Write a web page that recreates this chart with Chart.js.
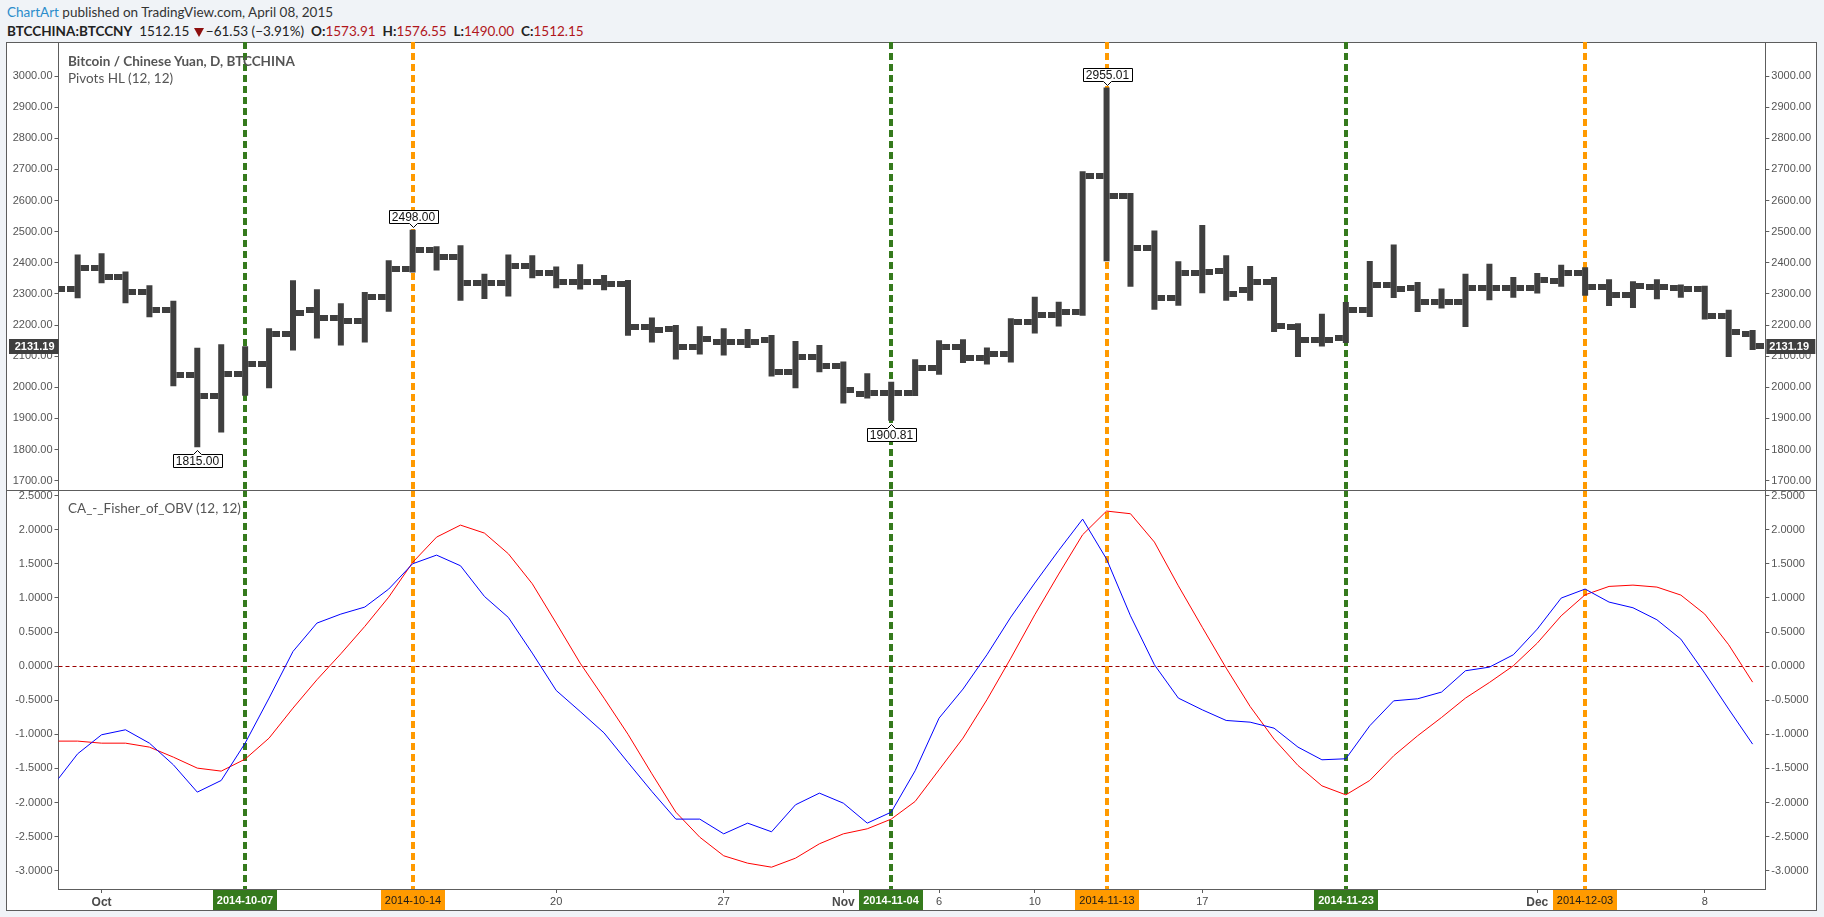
<!DOCTYPE html>
<html>
<head>
<meta charset="utf-8">
<script src="https://cdn.jsdelivr.net/npm/chart.js@4.4.1/dist/chart.umd.min.js"></script>
<style>
html,body{margin:0;padding:0;}
body{width:1824px;height:917px;background:#f0f3f7;position:relative;overflow:hidden;font-family:Lato,"Open Sans",sans-serif;}
#frame{position:absolute;left:6px;top:42px;width:1811px;height:869px;box-sizing:border-box;border:1px solid #5d5d5d;background:#fff;}
#divider{position:absolute;left:6px;top:490px;width:1811px;height:1px;background:#5d5d5d;}
canvas{position:absolute;left:0;}
#c1{top:36px;}
#c2{top:490px;}
.txt{position:absolute;white-space:nowrap;line-height:16px;}
#h1{left:7px;top:4px;font-size:13.5px;color:#333;}
#h1 .brand{color:#2b8ccb;}
#h2{left:7px;top:23px;font-size:13.5px;color:#222;}
#h2 .r{color:#b0161b;}
#h2 .tri{display:inline-block;width:0;height:0;border-left:5px solid transparent;border-right:5px solid transparent;border-top:9px solid #8e0f0f;vertical-align:-1px;margin:0 2px 0 1px;}
.leg{left:68px;font-size:13.5px;color:#555;}
#l1{top:53px;font-weight:bold;}
#l2{top:70px;}
#l3{top:500px;}
</style>
</head>
<body>
<div id="frame"></div>
<div class="txt" id="h1"><span class="brand">ChartArt</span> published on TradingView.com, April 08, 2015</div>
<div class="txt" id="h2"><b>BTCCHINA:BTCCNY</b>&nbsp; 1512.15 <span class="tri"></span>−61.53 (−3.91%)&nbsp; <b>O:</b><span class="r">1573.91</span>&nbsp; <b>H:</b><span class="r">1576.55</span>&nbsp; <b>L:</b><span class="r">1490.00</span>&nbsp; <b>C:</b><span class="r">1512.15</span></div>
<canvas id="c1" width="1824" height="460"></canvas>
<canvas id="c2" width="1824" height="421"></canvas>
<div id="divider"></div>
<div class="txt leg" id="l1">Bitcoin / Chinese Yuan, D, BTCCHINA</div>
<div class="txt leg" id="l2">Pivots HL (12, 12)</div>
<div class="txt leg" id="l3">CA_-_Fisher_of_OBV (12, 12)</div>
<script>
// ---------------- DATA ----------------
const dates = [
 "2014-09-29","2014-09-30",
 "2014-10-01","2014-10-02","2014-10-03","2014-10-04","2014-10-05","2014-10-06","2014-10-07","2014-10-08","2014-10-09","2014-10-10",
 "2014-10-11","2014-10-12","2014-10-13","2014-10-14","2014-10-15","2014-10-16","2014-10-17","2014-10-18","2014-10-19","2014-10-20",
 "2014-10-21","2014-10-22","2014-10-23","2014-10-24","2014-10-25","2014-10-26","2014-10-27","2014-10-28","2014-10-29","2014-10-30","2014-10-31",
 "2014-11-01","2014-11-03","2014-11-04","2014-11-05","2014-11-06","2014-11-07","2014-11-08","2014-11-09","2014-11-10",
 "2014-11-11","2014-11-12","2014-11-13","2014-11-14","2014-11-15","2014-11-16","2014-11-17","2014-11-18","2014-11-19","2014-11-20",
 "2014-11-21","2014-11-22","2014-11-23","2014-11-24","2014-11-25","2014-11-26","2014-11-27","2014-11-28","2014-11-29","2014-11-30",
 "2014-12-01","2014-12-02","2014-12-03","2014-12-04","2014-12-05","2014-12-06","2014-12-07","2014-12-08","2014-12-09","2014-12-10"
];
const opens = [
 2300,2315,2382,2353,2305,2248,2040,1972,2043,2075,
 2170,2248,2222,2214,2291,2379,2441,2418,2336,2336,
 2391,2368,2339,2339,2331,2193,2186,2128,2147,2147,
 2152,2050,2098,2069,1979,1983,1983,2061,2131,2093,
 2106,2211,2232,2243,2678,2614,2449,2286,2368,2373,
 2312,2338,2194,2153,2159,2247,2330,2320,2274,2274,
 2320,2320,2320,2343,2366,2323,2295,2323,2320,2316,
 2228,2172];
const highs = [
 2330,2419,2423,2364,2320,2270,2119,2130,2124,2182,
 2336,2307,2262,2298,2400,2498,2445,2448,2357,2419,
 2416,2380,2387,2353,2337,2216,2192,2188,2182,2179,
 2160,2141,2128,2075,2037,2010,2082,2143,2146,2120,
 2214,2283,2267,2686,2955.01,2616,2496,2397,2513,2416,
 2382,2346,2198,2228,2266,2398,2451,2330,2309,2357,
 2389,2346,2359,2386,2378,2339,2333,2339,2322,2318,
 2241,2176];
const lows = [
 2288,2294,2342,2278,2233,2011,1815,1863,1981,2005,
 2126,2165,2142,2152,2251,2377,2383,2286,2292,2300,
 2358,2326,2322,2320,2174,2152,2097,2113,2110,2134,
 2043,2005,2056,1956,1972,1900.81,1980,2048,2086,2081,
 2088,2181,2203,2238,2413,2331,2257,2270,2310,2286,
 2286,2186,2105,2139,2150,2234,2295,2250,2261,2202,
 2288,2296,2309,2331,2302,2269,2263,2291,2296,2226,
 2105,2128];
const closes = [
 2315,2382,2353,2305,2248,2040,1972,2043,2075,2170,
 2238,2222,2214,2291,2379,2441,2418,2336,2336,2391,
 2368,2339,2339,2331,2193,2184,2128,2154,2147,2147,
 2050,2098,2069,1991,1983,1983,2061,2131,2093,2106,
 2211,2232,2243,2678,2614,2448,2286,2368,2370,2300,
 2338,2196,2153,2153,2247,2330,2316,2274,2274,2320,
 2320,2320,2346,2366,2323,2295,2327,2323,2316,2228,
 2177,2131.19];
const fisherValues = [
 -1.74,-1.286,-1.007,-0.934,-1.13,-1.447,-1.848,-1.677,-1.13,-0.469,
 0.215,0.631,0.763,0.866,1.13,1.501,1.628,1.472,1.022,0.714,
 0.191,-0.357,-0.665,-0.98,-1.413,-1.839,-2.244,-2.244,-2.46,-2.303,
 -2.43,-2.034,-1.863,-2.01,-2.303,-2.142,-1.535,-0.763,-0.337,0.166,
 0.719,1.218,1.697,2.156,1.57,0.738,0.02,-0.469,-0.641,-0.797,
 -0.822,-0.91,-1.188,-1.374,-1.359,-0.875,-0.509,-0.479,-0.381,-0.068,
 -0.015,0.166,0.543,0.998,1.13,0.939,0.856,0.68,0.396,-0.103,
 -0.631,-1.144];
const triggerValues = [
 -1.10,-1.10,-1.13,-1.13,-1.188,-1.335,-1.496,-1.54,-1.364,-1.056,
 -0.616,-0.2,0.181,0.582,1.012,1.521,1.892,2.068,1.951,1.648,
 1.208,0.631,0.044,-0.47,-1.0,-1.58,-2.142,-2.509,-2.782,-2.89,
 -2.949,-2.817,-2.606,-2.46,-2.386,-2.244,-1.985,-1.521,-1.056,-0.494,
 0.117,0.753,1.35,1.927,2.274,2.235,1.819,1.178,0.57,-0.029,
 -0.592,-1.071,-1.457,-1.756,-1.888,-1.677,-1.315,-1.022,-0.753,-0.469,
 -0.24,0.005,0.337,0.738,1.046,1.169,1.188,1.159,1.042,0.763,
 0.313,-0.235];
const priceTicks = [1700,1800,1900,2000,2100,2200,2300,2400,2500,2600,2700,2800,2900,3000];
const fisherTicks = [-3,-2.5,-2,-1.5,-1,-0.5,0,0.5,1,1.5,2,2.5];
const xTickDates = ["2014-10-01","2014-10-20","2014-10-27","2014-11-01","2014-11-06","2014-11-10","2014-11-17","2014-12-01","2014-12-08"];
const xTickLabels = ["Oct","20","27","Nov","6","10","17","Dec","8"];
const monthLabels = ["Oct","Nov","Dec"];
const buyDates = ["2014-10-07","2014-11-04","2014-11-23"];
const sellDates = ["2014-10-14","2014-11-13","2014-12-03"];
const pivotHighDates = ["2014-10-14","2014-11-13"];
const pivotLowDates = ["2014-10-05","2014-11-04"];
const zeroLevel = 0;

// ---------------- STYLE ----------------
const BAR = '#3f3f3f';
const GREEN = '#357a1d';
const ORANGE = '#ff9a00';
const AXIS = '#5d5d5d';
const TICKTXT = '#555';
const TFONT = '"Liberation Sans", Arial, sans-serif';
const X_MIN = 0.2, X_MAX = 71.53;
const TICK_R = 6; // point radius of OHLC tick markers (also the chart's min padding)

const idx = d => dates.indexOf(d);

function tickImage(side){
  const c = document.createElement('canvas');
  c.width = 22; c.height = 6;
  const g = c.getContext('2d');
  g.fillStyle = BAR;
  if (side < 0) g.fillRect(0,0,8,6); else g.fillRect(14,0,8,6);
  return c;
}
const openImg = tickImage(-1), closeImg = tickImage(1);

function drawSignals(chart){
  const {ctx, chartArea:a, scales:{x}} = chart;
  ctx.save();
  ctx.beginPath(); ctx.rect(a.left, a.top, a.right-a.left, a.bottom-a.top); ctx.clip();
  ctx.lineWidth = 4; ctx.setLineDash([7,4]);
  const draw = (d,col) => {
    const px = Math.round(x.getPixelForValue(idx(d)));
    ctx.strokeStyle = col; ctx.beginPath(); ctx.moveTo(px, a.top); ctx.lineTo(px, a.bottom); ctx.stroke();
  };
  buyDates.forEach(d => draw(d, GREEN));
  sellDates.forEach(d => draw(d, ORANGE));
  ctx.restore();
}

function fixWidth(w){ return s => { s.width = w; s.paddingTop = 0; s.paddingBottom = 0; }; }

const yTickOpts = (fmt) => ({
  color: TICKTXT, font: {family: TFONT, size: 11}, padding: 2,
  callback: v => Number(v).toFixed(fmt)
});
const yGrid = {display:true, drawOnChartArea:false, drawTicks:true, tickLength:4, color:AXIS};

// ---------------- PRICE PANE ----------------
const pricePlugin = {
  id:'pricePane',
  beforeDatasetsDraw(chart){ drawSignals(chart); },
  afterDatasetsDraw(chart){
    const {ctx, scales:{x, y}} = chart;
    ctx.save();
    ctx.font = '12px ' + TFONT;
    const label = (d, val, above) => {
      const px = Math.round(x.getPixelForValue(idx(d))) + 0.5;
      const py = y.getPixelForValue(val);
      const text = val.toFixed(2);
      const w = Math.round(ctx.measureText(text).width) + 6, h = 13, gap = 9.5;
      const top = Math.round(above ? py - gap - h : py + gap) + 0.5;
      const left = Math.round(px - w/2) + 0.5;
      ctx.beginPath();
      if (above) {
        ctx.moveTo(left, top); ctx.lineTo(left+w, top); ctx.lineTo(left+w, top+h);
        ctx.lineTo(px+4, top+h); ctx.lineTo(px, top+h+4); ctx.lineTo(px-4, top+h); ctx.lineTo(left, top+h);
      } else {
        ctx.moveTo(left, top+h); ctx.lineTo(left+w, top+h); ctx.lineTo(left+w, top);
        ctx.lineTo(px+4, top); ctx.lineTo(px, top-4); ctx.lineTo(px-4, top); ctx.lineTo(left, top);
      }
      ctx.closePath();
      ctx.fillStyle = '#fff'; ctx.fill();
      ctx.strokeStyle = '#000'; ctx.lineWidth = 1; ctx.stroke();
      ctx.fillStyle = '#111'; ctx.textAlign = 'center'; ctx.textBaseline = 'middle';
      ctx.fillText(text, px, top + h/2 + 0.5);
    };
    pivotHighDates.forEach(d => label(d, highs[idx(d)], true));
    pivotLowDates.forEach(d => label(d, lows[idx(d)], false));
    ctx.restore();
  },
  afterDraw(chart){
    const {ctx, chartArea:a, scales:{y}} = chart;
    const last = closes[closes.length-1];
    const py = Math.round(y.getPixelForValue(last));
    ctx.save();
    ctx.fillStyle = BAR;
    ctx.fillRect(9, py-7, a.left-9, 15);
    ctx.fillRect(a.right+1, py-7, 49, 15);
    ctx.fillStyle = '#fff'; ctx.font = 'bold 11px ' + TFONT;
    ctx.textBaseline = 'middle'; ctx.textAlign = 'right';
    ctx.fillText(last.toFixed(2), a.left - 4, py + 0.5);
    ctx.textAlign = 'left';
    ctx.fillText(last.toFixed(2), a.right + 4, py + 0.5);
    ctx.restore();
  }
};

new Chart(document.getElementById('c1'), {
  type: 'bar',
  data: {
    datasets: [
      {type:'scatter', data: dates.map((d,i)=>({x:i, y:opens[i]})), pointStyle: openImg,
       pointRadius: TICK_R, pointHoverRadius: 0, pointBorderWidth: 0, showLine:false},
      {type:'scatter', data: dates.map((d,i)=>({x:i, y:closes[i]})), pointStyle: closeImg,
       pointRadius: TICK_R, pointHoverRadius: 0, pointBorderWidth: 0, showLine:false},
      {type:'bar', data: dates.map((d,i)=>({x:i, y:[lows[i], highs[i]]})), backgroundColor: BAR, borderWidth: 0,
       barThickness: 1, inflateAmount: 2.5}
    ]
  },
  options: {
    responsive:false, animation:false, events:[],
    layout:{padding:{left:7, right:7, top:TICK_R, bottom:TICK_R}},
    plugins:{legend:{display:false}, tooltip:{enabled:false}},
    scales:{
      x:{type:'linear', min:X_MIN, max:X_MAX, display:false, offset:false},
      y:{type:'linear', position:'left', min:1670, max:3109.4,
         afterBuildTicks: s => { s.ticks = priceTicks.map(v=>({value:v})); },
         afterFit: fixWidth(51.5), ticks: yTickOpts(2), grid: yGrid, border:{display:true, color:AXIS}},
      yR:{type:'linear', position:'right', min:1670, max:3109.4,
         afterBuildTicks: s => { s.ticks = priceTicks.map(v=>({value:v})); },
         afterFit: fixWidth(51.7), ticks: yTickOpts(2), grid: yGrid, border:{display:true, color:AXIS}}
    }
  },
  plugins:[pricePlugin]
});

// ---------------- FISHER PANE ----------------
const fisherPlugin = {
  id:'fisherPane',
  beforeDatasetsDraw(chart){
    const {ctx, chartArea:a, scales:{y}} = chart;
    const py = Math.round(y.getPixelForValue(zeroLevel)) + 0.5;
    ctx.save();
    ctx.strokeStyle = '#9a0000'; ctx.lineWidth = 1; ctx.setLineDash([4,3]);
    ctx.beginPath(); ctx.moveTo(a.left, py); ctx.lineTo(a.right, py); ctx.stroke();
    ctx.restore();
    drawSignals(chart);
  },
  afterDraw(chart){
    const {ctx, chartArea:a, scales:{x}} = chart;
    ctx.save();
    ctx.textAlign = 'center'; ctx.textBaseline = 'middle';
    const box = (d, bg, fg, bold) => {
      const px = Math.round(x.getPixelForValue(idx(d)));
      ctx.fillStyle = bg; ctx.fillRect(px-32, a.bottom+1, 64, 20);
      ctx.fillStyle = fg; ctx.font = (bold?'bold ':'') + '11px ' + TFONT;
      ctx.fillText(d, px, a.bottom + 11.5);
    };
    buyDates.forEach(d => box(d, GREEN, '#fff', true));
    sellDates.forEach(d => box(d, ORANGE, '#1a1a1a', false));
    ctx.restore();
  }
};

new Chart(document.getElementById('c2'), {
  type: 'line',
  data: {
    datasets: [
      {data: dates.map((d,i)=>({x:i, y:fisherValues[i]})), borderColor:'#0000ff', borderWidth:1, pointRadius:0, tension:0},
      {data: dates.map((d,i)=>({x:i, y:triggerValues[i]})), borderColor:'#ff0000', borderWidth:1, pointRadius:0, tension:0}
    ]
  },
  options: {
    responsive:false, animation:false, events:[],
    layout:{padding:{left:7, right:7, top:0, bottom:0}},
    plugins:{legend:{display:false}, tooltip:{enabled:false}},
    scales:{
      x:{type:'linear', min:X_MIN, max:X_MAX, offset:false,
         afterBuildTicks: s => { s.ticks = xTickDates.map(d=>({value:idx(d)})); },
         afterFit: s => { s.height = 22; s.paddingLeft = 0; s.paddingRight = 0; },
         ticks:{autoSkip:false, maxRotation:0, padding:2, color:'#4a4a4a',
           callback: (v, i) => xTickLabels[i],
           font: c => { const lab = xTickLabels[c.index]; const m = monthLabels.includes(lab);
                        return {family:TFONT, size: m ? 12 : 11, weight: m ? 'bold' : 'normal'}; }},
         grid:{display:true, drawOnChartArea:false, drawTicks:true, tickLength:4, color:AXIS},
         border:{display:true, color:AXIS}},
      y:{type:'linear', position:'left', min:-3.269, max:2.583,
         afterBuildTicks: s => { s.ticks = fisherTicks.map(v=>({value:v})); },
         afterFit: fixWidth(51.5), ticks: yTickOpts(4), grid: yGrid, border:{display:true, color:AXIS}},
      yR:{type:'linear', position:'right', min:-3.269, max:2.583,
         afterBuildTicks: s => { s.ticks = fisherTicks.map(v=>({value:v})); },
         afterFit: fixWidth(51.7), ticks: yTickOpts(4), grid: yGrid, border:{display:true, color:AXIS}}
    }
  },
  plugins:[fisherPlugin]
});
</script>
</body>
</html>
